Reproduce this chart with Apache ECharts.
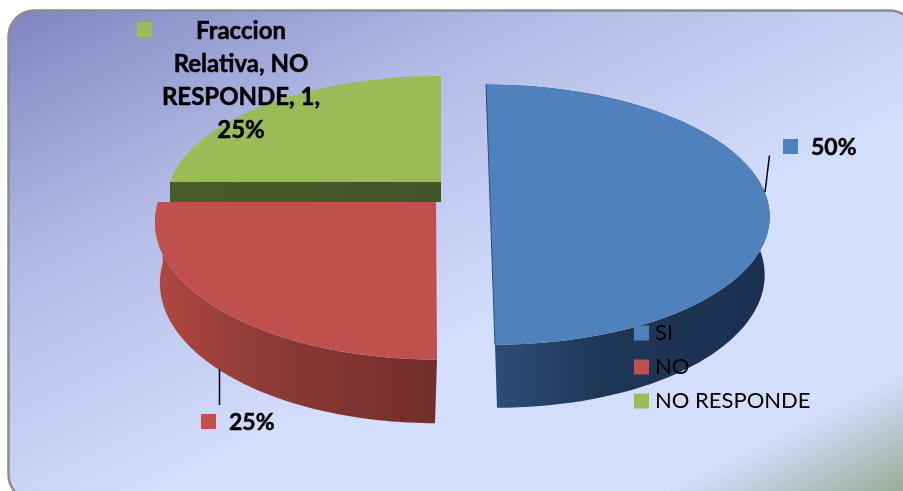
<!DOCTYPE html>
<html>
<head>
<meta charset="utf-8">
<style>
  html, body { margin: 0; padding: 0; background: #fff; }
  #chart { width: 903px; height: 491px; }
</style>
<script src="https://cdn.jsdelivr.net/npm/echarts@6/dist/echarts.min.js"></script>
</head>
<body>
<div id="chart"></div>
<script>
const categories = ["SI", "NO", "NO RESPONDE"];
const frequencies = [2, 1, 1];
const seriesName = "Fraccion Relativa";

const fontName = "Lato";
const colors = ["#4f81bd", "#c0504d", "#9bbb59"];
const sideColors = [
  ["#2d4f7b", "#1f3757", "#1b3050"],
  ["#b0473f", "#8d3b37", "#722d2a"],
  ["#4a5c2c", "#475829", "#445428"],
];

// shape of each exploded slice on screen (the picture has a perspective view)
const topShapes = [
  { cx: 490.5, cy: 212, rx: 279, ry: 130, persp: 0.02, skew: 4.5 },
  { cx: 436, cy: 202, rx: 278, ry: 134, persp: 0.15, skew: 1 },
  { cx: 441, cy: 182, rx: 271, ry: 122, persp: 0.15, skew: 0 },
];
const bottomShapes = [
  { cx: 492.5, cy: 270, rx: 272, ry: 135, persp: 0.02, skew: 4.5 },
  { cx: 435, cy: 262, rx: 272, ry: 137, persp: 0.15, skew: 0 },
  null,
];
const greenWallDepth = 20;
const total = frequencies.reduce((a, b) => a + b, 0);

function edgePoint(s, angle) {
  const w = 1 / (1 + s.persp * Math.cos(angle));
  return [
    s.cx + s.rx * Math.sin(angle) * w - s.skew * Math.cos(angle),
    s.cy - s.ry * Math.cos(angle) * w,
  ];
}

function arcPoints(s, from, to) {
  const pts = [];
  const steps = 80;
  for (let i = 0; i <= steps; i++) {
    pts.push(edgePoint(s, from + ((to - from) * i) / steps));
  }
  return pts;
}

function renderSlice(index) {
  return function () {
    const s = topShapes[index];
    const b = bottomShapes[index];
    const before = frequencies.slice(0, index).reduce((a, c) => a + c, 0);
    const from = (before / total) * Math.PI * 2;
    const to = ((before + frequencies[index]) / total) * Math.PI * 2;
    const arc = arcPoints(s, from, to);

    // side wall: rim for blue and red, the cut face for green
    let wall;
    if (b) {
      wall = arc.concat(arcPoints(b, from, to).reverse());
    } else {
      const left = arc[0][0];
      wall = [[left, s.cy], [s.cx, s.cy], [s.cx, s.cy + greenWallDepth], [left, s.cy + greenWallDepth]];
    }
    const children = [
      {
        type: "polygon",
        shape: { points: wall },
        style: {
          fill: new echarts.graphic.LinearGradient(0, 0, 1, 0, [
            { offset: 0, color: sideColors[index][0] },
            { offset: 0.4, color: sideColors[index][1] },
            { offset: 1, color: sideColors[index][2] },
          ]),
        },
      },
      {
        type: "polygon",
        shape: { points: [[s.cx, s.cy]].concat(arc) },
        style: { fill: colors[index] },
      },
    ];
    if (index === 0) {
      // thin dark edge of the cut on the blue slice
      const a = edgePoint(s, from);
      const c = edgePoint(s, to);
      children.push({
        type: "line",
        shape: { x1: a[0], y1: a[1], x2: c[0], y2: c[1] },
        style: { stroke: "#2b4d78", lineWidth: 1 },
      });
    }
    return { type: "group", children: children };
  };
}

function pct(i) {
  return Math.round((frequencies[i] / total) * 100) + "%";
}

const boldLabel = {
  fontFamily: fontName,
  fontWeight: "bold",
  fill: "#000",
  stroke: "#000",
  lineWidth: 0.5,
};

const chart = echarts.init(document.getElementById("chart"));
chart.setOption({
  animation: false,
  color: colors,
  textStyle: { fontFamily: fontName },
  graphic: [
    {
      type: "rect",
      z: -10,
      shape: { x: 8.5, y: 10.5, width: 907, height: 490, r: 26 },
      style: {
        stroke: "#8c8c8c",
        lineWidth: 2.5,
        fill: new echarts.graphic.LinearGradient(8, 10, 379, 752, [
          { offset: 0, color: "#8084bf" },
          { offset: 0.28, color: "#b2b9e5" },
          { offset: 0.6, color: "#d3ddfc" },
          { offset: 0.873, color: "#d4defd" },
          { offset: 1, color: "#98ad99" },
        ], true),
      },
    },
    // data labels, text built from the arrays
    { type: "line", shape: { x1: 769.5, y1: 155.5, x2: 765, y2: 192 }, style: { stroke: "#000", lineWidth: 1.5 }, z: 20 },
    { type: "rect", shape: { x: 783, y: 139, width: 15, height: 15 }, style: { fill: colors[0] }, z: 20 },
    { type: "text", x: 811, y: 148, z: 20, style: Object.assign({ text: pct(0), fontSize: 23, verticalAlign: "middle" }, boldLabel) },
    { type: "line", shape: { x1: 219.5, y1: 369, x2: 219.5, y2: 405 }, style: { stroke: "#000", lineWidth: 1.5 }, z: 20 },
    { type: "rect", shape: { x: 201, y: 414, width: 15, height: 15 }, style: { fill: colors[1] }, z: 20 },
    { type: "text", x: 229, y: 423, z: 20, style: Object.assign({ text: pct(1), fontSize: 23, verticalAlign: "middle" }, boldLabel) },
    { type: "rect", shape: { x: 137, y: 22, width: 15, height: 15 }, style: { fill: colors[2] }, z: 20 },
    {
      type: "text", x: 241, y: 15, z: 20,
      style: Object.assign({
        text: seriesName.replace(" ", "\n") + ", NO\nRESPONDE, " + frequencies[2] + ",\n" + pct(2),
        fontSize: 24, lineHeight: 33, align: "center", verticalAlign: "top",
      }, boldLabel),
    },
  ],
  legend: {
    orient: "vertical",
    left: 634,
    top: 322,
    padding: 0,
    itemWidth: 15,
    itemHeight: 15,
    itemGap: 12,
    icon: "rect",
    data: categories,
    selectedMode: false,
    textStyle: { fontFamily: fontName, fontSize: 22, color: "#000", padding: [0, 0, 0, 1] },
  },
  // drawn far to near so the blue slice sits on top
  series: [2, 1, 0].map((i) => ({
    type: "custom",
    name: categories[i],
    coordinateSystem: "none",
    data: [frequencies[i]],
    renderItem: renderSlice(i),
    silent: true,
    itemStyle: { color: colors[i] },
  })),
});
</script>
</body>
</html>
